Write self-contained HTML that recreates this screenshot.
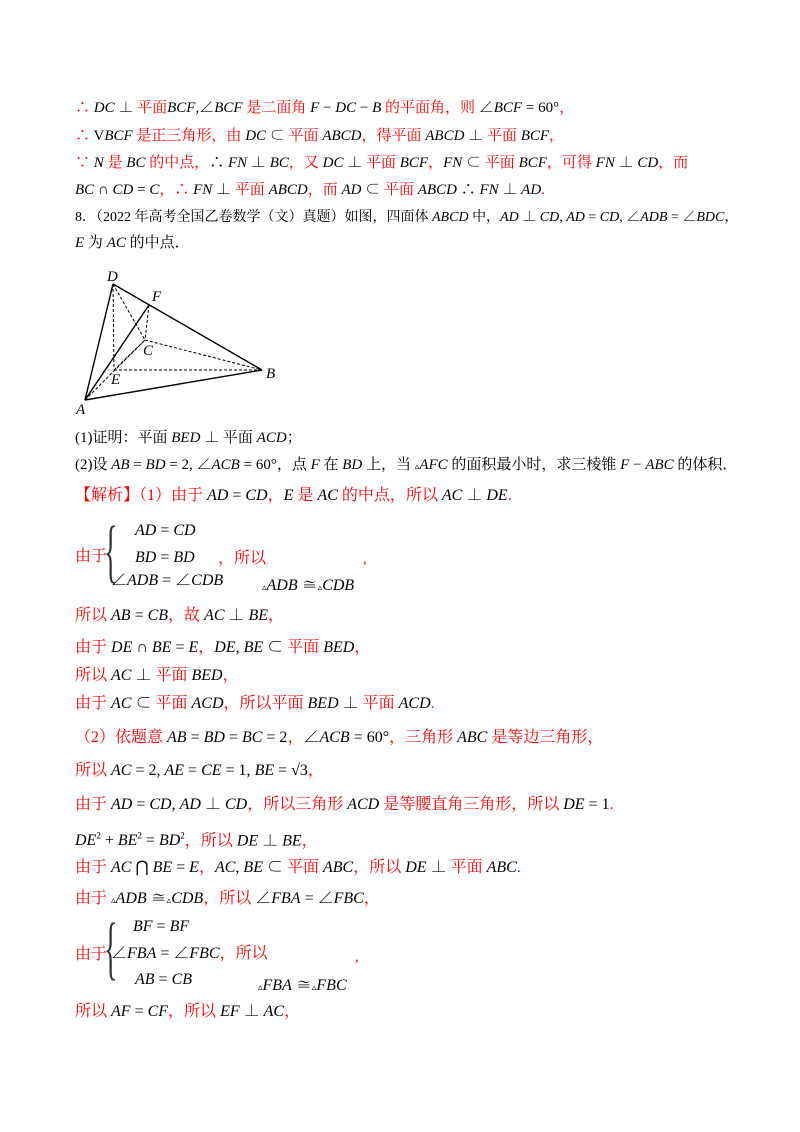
<!DOCTYPE html>
<html><head><meta charset="utf-8"><style>
body{margin:0;width:800px;height:1132px;background:#fff;position:relative;font-family:"Liberation Serif","Noto Serif CJK SC","Noto Sans CJK SC",serif;font-size:15px;color:#000}
.l{position:absolute;left:75px;white-space:nowrap;line-height:20px}
.r{color:#f00}
i{font-family:"Liberation Serif",serif;font-style:italic}
.k{color:#000}
.brace{position:absolute;font-size:70px;line-height:70px;font-weight:100;color:#333;transform:scaleX(0.4);transform-origin:left}
</style></head><body>
<div class="l r" style="top:98px">∴ <span class="k"><i>DC</i> ⊥ </span>平面<span class="k"><i>BCF</i>,∠<i>BCF</i></span> 是二面角 <span class="k"><i>F</i> − <i>DC</i> − <i>B</i></span> 的平面角，则 <span class="k">∠<i>BCF</i> = 60°</span>，</div>
<div class="l r" style="top:126px">∴ <span class="k">V<i>BCF</i></span> 是正三角形，由 <span class="k"><i>DC</i> ⊂ </span>平面 <span class="k"><i>ABCD</i></span>，得平面 <span class="k"><i>ABCD</i> ⊥ </span>平面 <span class="k"><i>BCF</i></span>，</div>
<div class="l r" style="top:153px">∵ <span class="k"><i>N</i></span> 是 <span class="k"><i>BC</i></span> 的中点，<span class="k">∴ <i>FN</i> ⊥ <i>BC</i></span>，又 <span class="k"><i>DC</i> ⊥ </span>平面 <span class="k"><i>BCF</i></span>，<span class="k"><i>FN</i> ⊂ </span>平面 <span class="k"><i>BCF</i></span>，可得 <span class="k"><i>FN</i> ⊥ <i>CD</i></span>，而</div>
<div class="l r" style="top:180px"><span class="k"><i>BC</i> ∩ <i>CD</i> = <i>C</i></span>，∴ <span class="k"><i>FN</i> ⊥ </span>平面 <span class="k"><i>ABCD</i></span>，而 <span class="k"><i>AD</i> ⊂ </span>平面 <span class="k"><i>ABCD</i> ∴ <i>FN</i> ⊥ <i>AD</i></span>.</div>
<div class="l" style="top:208px;font-size:14px">8．（2022 年高考全国乙卷数学（文）真题）如图，四面体 <i>ABCD</i> 中，<i>AD</i> ⊥ <i>CD</i>, <i>AD</i> = <i>CD</i>, ∠<i>ADB</i> = ∠<i>BDC</i>，</div>
<div class="l" style="top:233px"><i>E</i> 为 <i>AC</i> 的中点．</div>
<svg style="position:absolute;left:0;top:0" width="800" height="430">
<g stroke="#000" stroke-width="1.4" fill="none">
<line x1="113" y1="284" x2="85" y2="400"/><line x1="113" y1="284" x2="262" y2="370"/><line x1="85" y1="400" x2="262" y2="370"/><line x1="85" y1="400" x2="149" y2="305"/>
</g>
<g stroke="#000" stroke-width="1" stroke-dasharray="3,2" fill="none">
<line x1="113" y1="284" x2="114" y2="370"/><line x1="113" y1="284" x2="145" y2="340"/><line x1="145" y1="340" x2="262" y2="370"/><line x1="114" y1="370" x2="262" y2="370"/><line x1="149" y1="305" x2="145" y2="340"/><line x1="114" y1="370" x2="145" y2="340"/><line x1="85" y1="400" x2="145" y2="340"/>
</g>
<g font-family="Liberation Serif" font-style="italic" font-size="15">
<text x="107" y="281">D</text><text x="152" y="301">F</text><text x="143" y="355">C</text><text x="111" y="384">E</text><text x="266" y="378">B</text><text x="76" y="414">A</text></g>
</svg>
<div class="l" style="top:428px">(1)证明：平面 <i>BED</i> ⊥ 平面 <i>ACD</i>；</div>
<div class="l" style="top:455px">(2)设 <i>AB</i> = <i>BD</i> = 2, ∠<i>ACB</i> = 60°，点 <i>F</i> 在 <i>BD</i> 上，当 <span style="font-size:9px">▵</span><i>AFC</i> 的面积最小时，求三棱锥 <i>F</i> − <i>ABC</i> 的体积．</div>
<div class="l r" style="top:486px;font-size:16px">【解析】（1）由于 <span class="k"><i>AD</i> = <i>CD</i></span>，<span class="k"><i>E</i></span> 是 <span class="k"><i>AC</i></span> 的中点，所以 <span class="k"><i>AC</i> ⊥ <i>DE</i></span>.</div>
<div class="l r" style="top:547px;font-size:16px">由于</div>
<div class="brace" style="left:104px;top:517px">{</div>
<div class="l" style="left:135px;top:521px;font-size:16px"><i>AD</i> = <i>CD</i></div>
<div class="l" style="left:135px;top:548px;font-size:16px"><i>BD</i> = <i>BD</i></div>
<div class="l" style="left:111px;top:571px;font-size:16px">∠<i>ADB</i> = ∠<i>CDB</i></div>
<div class="l r" style="left:218px;top:549px;font-size:16px">，所以</div>
<div class="l r" style="left:363px;top:549px">,</div>
<div class="l" style="left:262px;top:576px;font-size:16px"><span style="font-size:9px">▵</span><i>ADB</i> ≅<span style="font-size:9px">▵</span><i>CDB</i></div>
<div class="l r" style="top:606px;font-size:16px">所以 <span class="k"><i>AB</i> = <i>CB</i></span>，故 <span class="k"><i>AC</i> ⊥ <i>BE</i></span>，</div>
<div class="l r" style="top:638px;font-size:16px">由于 <span class="k"><i>DE</i> ∩ <i>BE</i> = <i>E</i></span>，<span class="k"><i>DE</i>, <i>BE</i> ⊂ </span>平面 <span class="k"><i>BED</i></span>，</div>
<div class="l r" style="top:666px;font-size:16px">所以 <span class="k"><i>AC</i> ⊥ </span>平面 <span class="k"><i>BED</i></span>，</div>
<div class="l r" style="top:694px;font-size:16px">由于 <span class="k"><i>AC</i> ⊂ </span>平面 <span class="k"><i>ACD</i></span>，所以平面 <span class="k"><i>BED</i> ⊥ </span>平面 <span class="k"><i>ACD</i></span>.</div>
<div class="l r" style="top:728px;font-size:16px">（2）依题意 <span class="k"><i>AB</i> = <i>BD</i> = <i>BC</i> = 2</span>，<span class="k">∠<i>ACB</i> = 60°</span>，三角形 <span class="k"><i>ABC</i></span> 是等边三角形，</div>
<div class="l r" style="top:761px;font-size:16px">所以 <span class="k"><i>AC</i> = 2, <i>AE</i> = <i>CE</i> = 1, <i>BE</i> = √3</span>，</div>
<div class="l r" style="top:795px;font-size:16px">由于 <span class="k"><i>AD</i> = <i>CD</i>, <i>AD</i> ⊥ <i>CD</i></span>，所以三角形 <span class="k"><i>ACD</i></span> 是等腰直角三角形，所以 <span class="k"><i>DE</i> = 1</span>.</div>
<div class="l r" style="top:826px;font-size:16px"><span class="k"><i>DE</i><sup style="font-size:9px">2</sup> + <i>BE</i><sup style="font-size:9px">2</sup> = <i>BD</i><sup style="font-size:9px">2</sup></span>，所以 <span class="k"><i>DE</i> ⊥ <i>BE</i></span>，</div>
<div class="l r" style="top:858px;font-size:16px">由于 <span class="k"><i>AC</i> ⋂ <i>BE</i> = <i>E</i></span>，<span class="k"><i>AC</i>, <i>BE</i> ⊂ </span>平面 <span class="k"><i>ABC</i></span>，所以 <span class="k"><i>DE</i> ⊥ </span>平面 <span class="k"><i>ABC</i></span>.</div>
<div class="l r" style="top:889px;font-size:16px">由于 <span class="k"><span style="font-size:9px">▵</span><i>ADB</i> ≅<span style="font-size:9px">▵</span><i>CDB</i></span>，所以 <span class="k">∠<i>FBA</i> = ∠<i>FBC</i></span>，</div>
<div class="l r" style="top:945px;font-size:16px">由于</div>
<div class="brace" style="left:104px;top:914px">{</div>
<div class="l" style="left:133px;top:917px;font-size:16px"><i>BF</i> = <i>BF</i></div>
<div class="l" style="left:111px;top:944px;font-size:16px">∠<i>FBA</i> = ∠<i>FBC</i><span class="r">，所以</span></div>
<div class="l r" style="left:355px;top:947px">,</div>
<div class="l" style="left:135px;top:970px;font-size:16px"><i>AB</i> = <i>CB</i></div>
<div class="l" style="left:258px;top:976px;font-size:16px"><span style="font-size:9px">▵</span><i>FBA</i> ≅<span style="font-size:9px">▵</span><i>FBC</i></div>
<div class="l r" style="top:1002px;font-size:16px">所以 <span class="k"><i>AF</i> = <i>CF</i></span>，所以 <span class="k"><i>EF</i> ⊥ <i>AC</i></span>，</div>
</body></html>
